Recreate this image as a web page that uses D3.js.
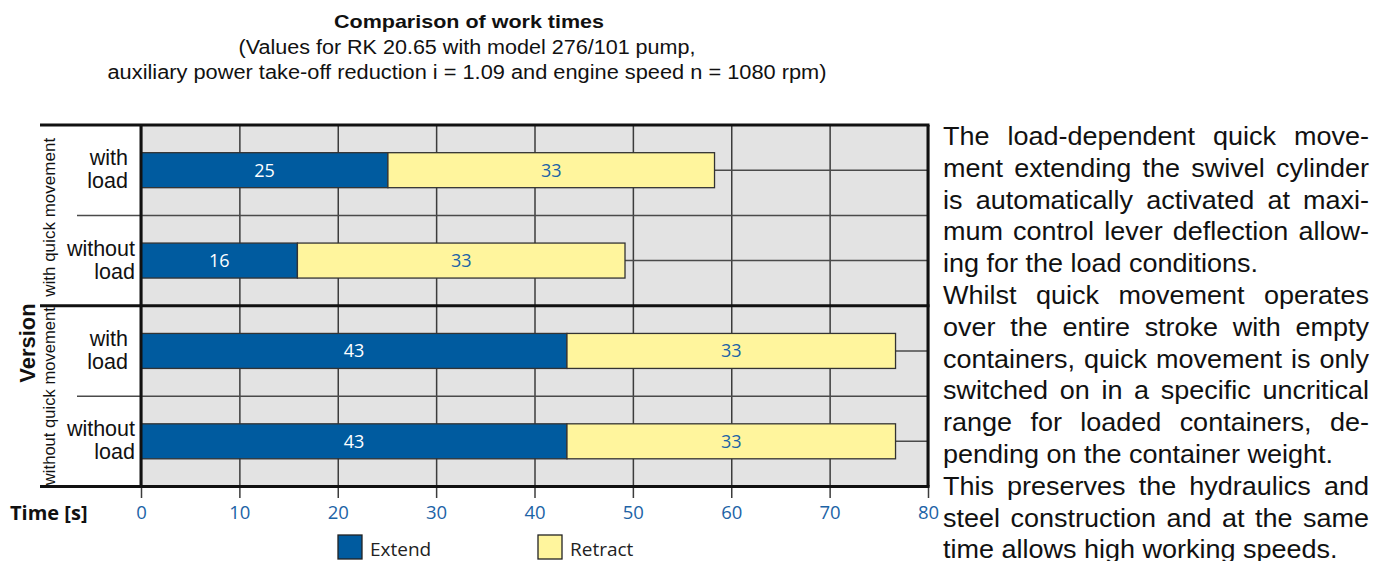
<!DOCTYPE html>
<html>
<head>
<meta charset="utf-8">
<script src="https://cdn.jsdelivr.net/npm/d3@7"></script>
<style>
  body { margin: 0; background: #fff; }
  svg { display: block; }
</style>
</head>
<body>
<div id="chart"></div>
<script>
// ---- data ----
var titleText = "Comparison of work times";
var subtitleLines = ["(Values for RK 20.65 with model 276/101 pump,",
                     "auxiliary power take-off reduction i = 1.09 and engine speed n = 1080 rpm)"];

var groupLabels = ["with quick movement", "without quick movement"];
var rowLabels = [["with", "load"], ["without", "load"], ["with", "load"], ["without", "load"]];
var rowGroup = [0, 0, 1, 1];

var extendTimes  = [25.1, 15.9, 43.3, 43.3];
var retractTimes = [33.2, 33.3, 33.4, 33.4];

var seriesNames = ["Extend", "Retract"];
var xTicks = [0, 10, 20, 30, 40, 50, 60, 70, 80];
var xLabel = "Time [s]";
var yLabel = "Version";

var bodyLines = [
    ["The load-dependent quick move-", true],
    ["ment extending the swivel cylinder", true],
    ["is automatically activated at maxi-", true],
    ["mum control lever deflection allow-", true],
    ["ing for the load conditions.", false],
    ["Whilst quick movement operates", true],
    ["over the entire stroke with empty", true],
    ["containers, quick movement is only", true],
    ["switched on in a specific uncritical", true],
    ["range for loaded containers, de-", true],
    ["pending on the container weight.", false],
    ["This preserves the hydraulics and", true],
    ["steel construction and at the same", true],
    ["time allows high working speeds.", false]
];

// ---- layout ----
var W = 1373, H = 561;
var plot = {left: 141, right: 928, top: 125, bottom: 486.5};
var barH = 35;
var colors = {extend: "#005b9f", retract: "#fff59d"};
var valueBlue = "#1c63a6";
var helv = "'Liberation Sans', Arial, Helvetica, sans-serif";
var myriad = "'Open Sans', 'Noto Sans', sans-serif";

var svg = d3.select('#chart')
    .append('svg')
    .attr('width', W)
    .attr('height', H);

var x = d3.scaleLinear()
    .domain([0, 80])
    .range([plot.left, plot.right]);

var y = d3.scaleBand()
    .domain(d3.range(rowLabels.length))
    .range([plot.top, plot.bottom]);

// titles
svg.append("text")
    .attr("x", 469).attr("y", 28)
    .attr("text-anchor", "middle")
    .attr("textLength", 270).attr("lengthAdjust", "spacingAndGlyphs")
    .style("font", "bold 19px " + helv)
    .style("fill", "#111")
    .text(titleText);

var subW = [457, 719];
svg.selectAll(".subtitle")
    .data(subtitleLines)
    .enter().append("text")
    .attr("class", "subtitle")
    .attr("x", 467)
    .attr("y", function(d, i){ return 54 + i * 24.5; })
    .attr("text-anchor", "middle")
    .attr("textLength", function(d, i){ return subW[i]; })
    .attr("lengthAdjust", "spacingAndGlyphs")
    .style("font", "19.5px " + helv)
    .style("fill", "#111")
    .text(function(d){ return d; });

// plot background
svg.append("rect")
    .attr("x", plot.left).attr("y", plot.top)
    .attr("width", plot.right - plot.left)
    .attr("height", plot.bottom - plot.top)
    .style("fill", "#e3e3e3");

// vertical grid + ticks + labels
var xAxis = d3.axisBottom(x)
    .tickValues(xTicks)
    .tickSizeInner(-(498 - plot.top))
    .tickSizeOuter(0)
    .tickPadding(8);

var xg = svg.append("g")
    .attr("transform", "translate(0,498)")
    .call(xAxis);
xg.select(".domain").remove();
xg.selectAll(".tick line")
    .attr("stroke", "#3c3c3c")
    .attr("stroke-width", 1.5);
xg.selectAll(".tick text")
    .attr("fill", valueBlue)
    .style("font", "18.5px " + myriad);

// horizontal lines: row centres and row separators
svg.selectAll(".rowmid")
    .data(d3.range(rowLabels.length))
    .enter().append("line")
    .attr("x1", plot.left).attr("x2", plot.right)
    .attr("y1", function(d){ return y(d) + y.bandwidth() / 2; })
    .attr("y2", function(d){ return y(d) + y.bandwidth() / 2; })
    .attr("stroke", "#4a4a4a").attr("stroke-width", 1.5);

svg.selectAll(".rowsep")
    .data([1, 3])
    .enter().append("line")
    .attr("x1", 77).attr("x2", plot.right)
    .attr("y1", function(d){ return y(d); })
    .attr("y2", function(d){ return y(d); })
    .attr("stroke", "#4a4a4a").attr("stroke-width", 1.5);

// stacked bars
var table = extendTimes.map(function(e, i){
    return {row: i, extend: e, retract: retractTimes[i]};
});
var stacked = d3.stack().keys(["extend", "retract"])(table);

var series = svg.selectAll(".series")
    .data(stacked)
    .enter().append("g")
    .attr("class", "series");

series.selectAll("rect")
    .data(function(s){ return s.map(function(d){ d.key = s.key; return d; }); })
    .enter().append("rect")
    .attr("x", function(d){ return x(d[0]); })
    .attr("width", function(d){ return x(d[1]) - x(d[0]); })
    .attr("y", function(d){ return y(d.data.row) + y.bandwidth() / 2 - barH / 2; })
    .attr("height", barH)
    .style("fill", function(d){ return colors[d.key]; })
    .style("stroke", "#333")
    .style("stroke-width", 1.3);

series.selectAll("text")
    .data(function(s){ return s; })
    .enter().append("text")
    .attr("x", function(d){ return x((d[0] + d[1]) / 2); })
    .attr("y", function(d){ return y(d.data.row) + y.bandwidth() / 2; })
    .attr("dy", "0.36em")
    .attr("text-anchor", "middle")
    .style("font", "18px " + myriad)
    .style("fill", function(d){ return d.key === "extend" ? "#fff" : valueBlue; })
    .text(function(d){ return Math.round(d[1] - d[0]); });

// thick frame lines
var thickY = [plot.top, y(2), plot.bottom];
svg.selectAll(".thick")
    .data(thickY)
    .enter().append("line")
    .attr("x1", 40).attr("x2", plot.right + 1.5)
    .attr("y1", function(d){ return d; })
    .attr("y2", function(d){ return d; })
    .attr("stroke", "#111").attr("stroke-width", 3);

svg.append("line")
    .attr("x1", plot.left).attr("x2", plot.left)
    .attr("y1", plot.top).attr("y2", plot.bottom)
    .attr("stroke", "#111").attr("stroke-width", 3);
svg.append("line")
    .attr("x1", plot.right).attr("x2", plot.right)
    .attr("y1", plot.top).attr("y2", plot.bottom)
    .attr("stroke", "#111").attr("stroke-width", 3);

// row labels
var rl = svg.selectAll(".rowlabel")
    .data(rowLabels)
    .enter().append("text")
    .attr("class", "rowlabel")
    .attr("text-anchor", "end")
    .style("font", "21.5px " + helv)
    .style("fill", "#111");
rl.selectAll("tspan")
    .data(function(d, i){ return d.map(function(w, j){ return {w: w, j: j, row: i, first: d[0]}; }); })
    .enter().append("tspan")
    .attr("x", function(d){ return d.first.length > 4 ? 135 : 128; })
    .attr("y", function(d){ return y(d.row) + y.bandwidth() / 2 - 5 + d.j * 23; })
    .text(function(d){ return d.w; });

// group labels (rotated)
var gW = [159, 178];
svg.selectAll(".grouplabel")
    .data(groupLabels)
    .enter().append("text")
    .attr("transform", function(d, i){
        var cy = y(i * 2) + y.bandwidth() + (i === 0 ? 2 : 0);
        return "translate(55," + cy + ") rotate(-90)";
    })
    .attr("text-anchor", "middle")
    .attr("textLength", function(d, i){ return gW[i]; })
    .attr("lengthAdjust", "spacingAndGlyphs")
    .style("font", "17px " + helv)
    .style("fill", "#111")
    .text(function(d){ return d; });

svg.append("text")
    .attr("transform", "translate(35,343) rotate(-90)")
    .attr("text-anchor", "middle")
    .style("font", "bold 22px " + helv)
    .style("fill", "#111")
    .text(yLabel);

svg.append("text")
    .attr("x", 10).attr("y", 520)
    .style("font", "bold 20px " + myriad)
    .style("fill", "#111")
    .text(xLabel);

// legend
var legendX = [338, 538];
var lg = svg.selectAll(".legend")
    .data(seriesNames)
    .enter().append("g")
    .attr("transform", function(d, i){ return "translate(" + legendX[i] + ",535)"; });
lg.append("rect")
    .attr("width", 24).attr("height", 24)
    .style("fill", function(d, i){ return i === 0 ? colors.extend : colors.retract; })
    .style("stroke", "#222").style("stroke-width", 1.3);
lg.append("text")
    .attr("x", 32).attr("y", 21)
    .style("font", "19px " + myriad)
    .style("fill", "#222")
    .text(function(d){ return d; });

// right-hand paragraph, justified line by line
var sx = 1.08;
var bx = 943 / sx, bw = 426 / sx;
var body = svg.append("g")
    .attr("transform", "scale(" + sx + ",1)")
    .style("font", "25px " + helv)
    .style("fill", "#111");

bodyLines.forEach(function(line, i){
    var by = 145 + i * 31.8;
    var words = line[0].split(" ");
    var nodes = words.map(function(w){
        return body.append("text").attr("y", by).text(w);
    });
    var widths = nodes.map(function(n){ return n.node().getComputedTextLength(); });
    var total = d3.sum(widths);
    var gap = line[1] && words.length > 1 ? (bw - total) / (words.length - 1) : 6.95;
    var cx = bx;
    nodes.forEach(function(n, k){
        n.attr("x", cx);
        cx += widths[k] + gap;
    });
});
</script>
</body>
</html>
